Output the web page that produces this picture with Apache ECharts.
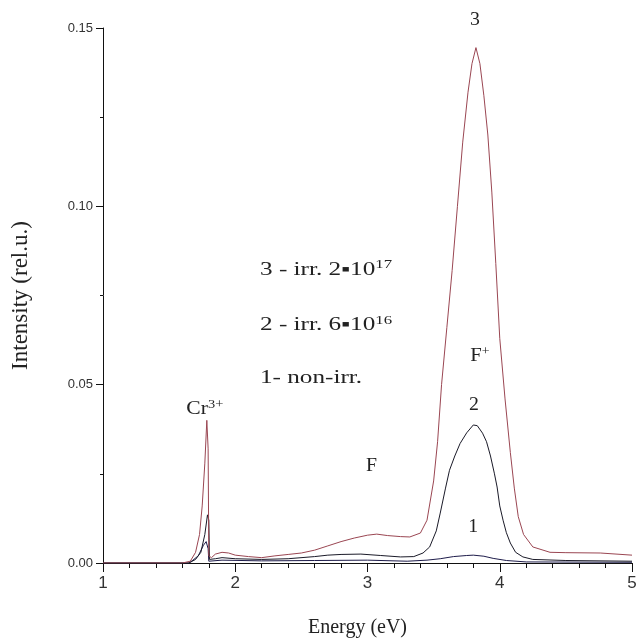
<!DOCTYPE html>
<html>
<head>
<meta charset="utf-8">
<script src="https://cdn.jsdelivr.net/npm/echarts@6/dist/echarts.min.js"></script>
<style>html,body{margin:0;padding:0;background:#fff}#c{width:638px;height:639px}</style>
</head>
<body>
<div id="c"></div>
<script>
// Energy (eV) and intensity (rel.u.)
const x3 = [1.00,1.60,1.66,1.70,1.73,1.75,1.77,1.785,1.795,1.80,1.82,1.85,1.90,1.95,2.00,2.10,2.20,2.30,2.40,2.50,2.60,2.70,2.80,2.90,3.00,3.07,3.15,3.25,3.32,3.40,3.45,3.50,3.53,3.56,3.60,3.64,3.68,3.72,3.76,3.79,3.82,3.85,3.88,3.91,3.94,3.97,4.00,4.04,4.08,4.11,4.14,4.18,4.25,4.38,4.50,4.76,5.00];
const y3 = [0,0,0.0005,0.003,0.008,0.016,0.028,0.040,0.032,0.002,0.0015,0.0025,0.0030,0.0028,0.0022,0.0018,0.0015,0.0020,0.0024,0.0028,0.0036,0.0048,0.0060,0.0070,0.0078,0.0081,0.0077,0.0074,0.0073,0.0084,0.012,0.023,0.034,0.050,0.066,0.082,0.100,0.118,0.132,0.140,0.1445,0.140,0.131,0.120,0.104,0.084,0.063,0.046,0.031,0.021,0.013,0.008,0.0045,0.0030,0.0029,0.0028,0.0022];

const x2 = [1.00,1.65,1.70,1.74,1.77,1.79,1.80,1.805,1.85,1.90,2.00,2.20,2.40,2.60,2.70,2.80,2.95,3.10,3.25,3.35,3.42,3.47,3.52,3.55,3.59,3.62,3.66,3.70,3.75,3.80,3.83,3.87,3.90,3.93,3.96,3.98,4.00,4.025,4.05,4.08,4.12,4.175,4.25,4.50,5.00];
const y2 = [0,0,0.001,0.003,0.008,0.0135,0.012,0.001,0.0012,0.0015,0.0012,0.0010,0.0012,0.0018,0.0022,0.0024,0.0025,0.0021,0.0017,0.0018,0.0028,0.0045,0.009,0.014,0.021,0.026,0.030,0.0335,0.0365,0.0387,0.0385,0.0364,0.034,0.030,0.025,0.0213,0.016,0.012,0.0085,0.0056,0.003,0.0017,0.001,0.0007,0.0005];

const x1 = [1.00,1.65,1.68,1.72,1.76,1.78,1.795,1.80,1.90,2.20,2.60,3.00,3.30,3.45,3.55,3.65,3.75,3.80,3.88,3.95,4.05,4.20,5.00];
const y1 = [0,0,0.0008,0.002,0.005,0.006,0.004,0.0005,0.0008,0.0006,0.0007,0.0008,0.0005,0.0008,0.0012,0.0018,0.0021,0.0022,0.0019,0.0013,0.0007,0.0003,0.0002];

const xTicks = [1,2,3,4,5];
const yTicks = [0,0.05,0.10,0.15];

// annotations in data coordinates
const notes = [
  {x:3.813, y:0.1522, text:'3', align:'center', sx:1.1},
  {x:1.77, y:0.0432, text:'Cr{sup|3+}', align:'center', sx:1.2},
  {x:2.187, y:0.0822, text:'3 - irr. 2\u25AA10{sup|17}', align:'left', sx:1.4},
  {x:2.187, y:0.0667, text:'2 - irr. 6\u25AA10{sup|16}', align:'left', sx:1.4},
  {x:2.187, y:0.0519, text:'1- non-irr.', align:'left', sx:1.4},
  {x:3.85, y:0.058, text:'F{sup|+}', align:'center', sx:1.15},
  {x:3.805, y:0.0443, text:'2', align:'center', sx:1.1},
  {x:3.03, y:0.0272, text:'F', align:'center', sx:1.1},
  {x:3.80, y:0.0101, text:'1', align:'center', sx:1.1}
];

const zip = (a,b) => a.map((v,i)=>[v,b[i]]);
const chart = echarts.init(document.getElementById('c'), null, {renderer:'canvas'});
const serif = '"Liberation Serif","Times New Roman",serif';
const sans = '"Liberation Sans",Arial,sans-serif';
const option = {
  animation:false,
  backgroundColor:'#fff',
  grid:{left:103,right:6,top:28,bottom:76,containLabel:false,outerBoundsMode:'none'},
  xAxis:{
    type:'value',min:xTicks[0],max:xTicks[xTicks.length-1],interval:1,
    name:'Energy (eV)',nameLocation:'middle',nameGap:55,
    nameTextStyle:{fontFamily:serif,fontSize:20,color:'#222',padding:[0,20,0,0]},
    axisLine:{show:true,onZero:false,lineStyle:{color:'#111',width:1}},
    axisTick:{show:true,length:9,lineStyle:{color:'#111'}},
    minorTick:{show:true,splitNumber:5,length:5,lineStyle:{color:'#111'}},
    splitLine:{show:false},
    axisLabel:{fontFamily:sans,fontSize:17,color:'#333',margin:12}
  },
  yAxis:{
    type:'value',min:yTicks[0],max:yTicks[yTicks.length-1],interval:0.05,
    name:'Intensity (rel.u.)',nameLocation:'middle',nameGap:71,
    nameTextStyle:{fontFamily:serif,fontSize:23,color:'#222'},
    axisLine:{show:true,onZero:false,lineStyle:{color:'#111',width:1}},
    axisTick:{show:true,length:7,lineStyle:{color:'#111'}},
    minorTick:{show:true,splitNumber:2,length:3,lineStyle:{color:'#111'}},
    splitLine:{show:false},
    axisLabel:{fontFamily:'"Liberation Sans Narrow","Liberation Sans",Arial,sans-serif',fontSize:13,color:'#333',margin:10,
      formatter:v=>v.toFixed(2)}
  },
  series:[
    {type:'line',data:zip(x1,y1),showSymbol:false,lineStyle:{color:'#1e1c4a',width:1},z:3},
    {type:'line',data:zip(x2,y2),showSymbol:false,lineStyle:{color:'#1a1a28',width:1},z:4},
    {type:'line',data:zip(x3,y3),showSymbol:false,lineStyle:{color:'#9a4652',width:1},z:5}
  ]
};
chart.setOption(option);

const rich = {sup:{fontSize:12,verticalAlign:'top',padding:[0,0,9,0],fontFamily:serif,color:'#222'}};
const graphics = notes.map(n=>{
  const p = chart.convertToPixel({gridIndex:0},[n.x,n.y]);
  return {type:'text',x:p[0],y:p[1],scaleX:n.sx,z:10,silent:true,
    style:{text:n.text,fontFamily:serif,fontSize:18,fill:'#222',align:n.align,verticalAlign:'middle',rich:rich}};
});
chart.setOption({graphic:graphics});
</script>
</body>
</html>
